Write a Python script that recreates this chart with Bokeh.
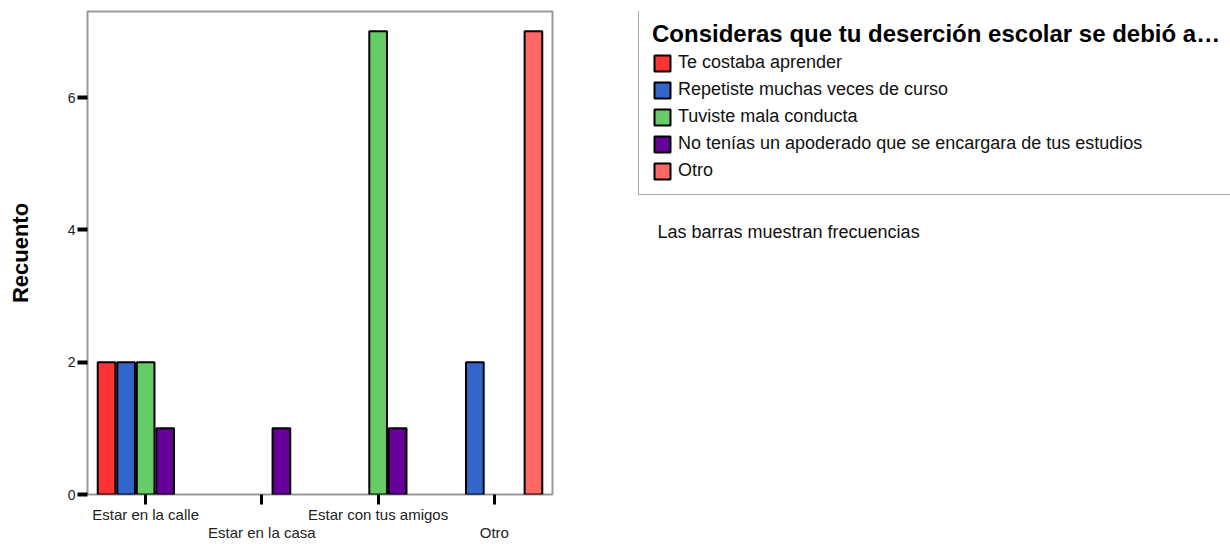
from bokeh.plotting import figure
from bokeh.layouts import row
from bokeh.models import (Range1d, FixedTicker, Legend, LegendItem, Label,
                          ColumnDataSource)
from bokeh.transform import dodge
from bokeh.embed import file_html
from bokeh.resources import INLINE

# ---- data ----
categories = ["Estar en la calle", "Estar en la casa", "Estar con tus amigos", "Otro"]
series_names = [
    "Te costaba aprender",
    "Repetiste muchas veces de curso",
    "Tuviste mala conducta",
    "No tenías un apoderado que se encargara de tus estudios",
    "Otro",
]
te_costaba = [2, 0, 0, 0]
repetiste = [2, 0, 0, 2]
mala_conducta = [2, 0, 7, 0]
sin_apoderado = [1, 1, 1, 0]
otro = [0, 0, 0, 7]
series_values = [te_costaba, repetiste, mala_conducta, sin_apoderado, otro]
colors = ["#ff3333", "#3366cc", "#66cc66", "#660099", "#ff6666"]
y_ticks = [0, 2, 4, 6]
legend_title = "Consideras que tu deserción escolar se debió a…"
note_text = "Las barras muestran frecuencias"

FONT = "Liberation Sans"
W1 = 560
H = 544
FRAME_BOTTOM = 495  # page y of the plot frame's bottom edge

p = figure(width=W1, height=H, output_backend="svg", toolbar_location=None,
           x_range=Range1d(-0.5, 3.5), y_range=Range1d(0, 7.3),
           min_border_left=87, min_border_right=8, min_border_top=11,
           min_border_bottom=H - FRAME_BOTTOM)
p.grid.visible = False
p.outline_line_color = "#9a9a9a"
p.outline_line_width = 2
p.background_fill_color = "white"
p.border_fill_color = "white"

slot = 0.168
for s, (name, vals, col) in enumerate(zip(series_names, series_values, colors)):
    xs = [i for i, v in enumerate(vals) if v > 0]
    tops = [v for v in vals if v > 0]
    src = ColumnDataSource(dict(x=xs, top=tops))
    p.vbar(x=dodge("x", (s - 2) * slot, range=p.x_range), top="top",
           width=0.152, bottom=0, source=src, fill_color=col,
           line_color="black", line_width=2)

# y axis
p.yaxis.ticker = FixedTicker(ticks=y_ticks)
p.yaxis.minor_tick_line_color = None
p.yaxis.major_tick_in = 0
p.yaxis.major_tick_out = 10
p.yaxis.major_tick_line_width = 4
p.yaxis.major_tick_line_color = "black"
p.yaxis.axis_line_color = None
p.yaxis.major_label_text_font = FONT
p.yaxis.major_label_text_font_size = "14px"
p.yaxis.major_label_text_color = "#222222"
p.yaxis.major_label_standoff = 2
p.yaxis.axis_label = "Recuento"
p.yaxis.axis_label_text_font = FONT
p.yaxis.axis_label_text_font_size = "22px"
p.yaxis.axis_label_text_font_style = "bold"
p.yaxis.axis_label_text_color = "black"
p.yaxis.axis_label_standoff = 32

# x axis
p.xaxis.ticker = FixedTicker(ticks=list(range(len(categories))))
p.xaxis.major_label_overrides = {
    i: (c if i % 2 == 0 else "\n" + c) for i, c in enumerate(categories)
}
p.xaxis.minor_tick_line_color = None
p.xaxis.major_tick_in = 0
p.xaxis.major_tick_out = 10
p.xaxis.major_tick_line_width = 3
p.xaxis.major_tick_line_color = "black"
p.xaxis.axis_line_color = None
p.xaxis.major_label_text_font = FONT
p.xaxis.major_label_text_font_size = "15px"
p.xaxis.major_label_text_color = "#222222"
p.xaxis.major_label_standoff = 1
p.xaxis.major_label_text_line_height = 1.1

# ---- legend panel (right) ----
W2 = 1230 - W1
p2 = figure(width=W2, height=H, output_backend="svg", toolbar_location=None,
            x_range=Range1d(0, W2), y_range=Range1d(0, H),
            min_border=0, outline_line_color=None)
p2.axis.visible = False
p2.grid.visible = False
p2.background_fill_color = "white"
p2.border_fill_color = "white"

# legend proxies (no drawable position; only their swatches show in the legend)
nan = float("nan")
items = []
for name, col in zip(series_names, colors):
    r = p2.vbar(x=[nan], top=[nan], bottom=[nan], width=1, fill_color=col,
                line_color="black", line_width=2)
    items.append(LegendItem(label=name, renderers=[r]))

# the frame of p2 is aligned with the frame of p (bottom at FRAME_BOTTOM)
legend = Legend(items=items, location=(638 - W1, FRAME_BOTTOM - 196),
                title=legend_title,
                title_text_font=FONT, title_text_font_size="24px",
                title_text_font_style="bold", title_text_color="black",
                title_standoff=4,
                label_text_font=FONT, label_text_font_size="18px",
                label_text_color="#111111",
                glyph_width=20, glyph_height=20, label_height=20,
                label_width=620, label_standoff=6, spacing=6, padding=13,
                margin=0, border_line_color="#555555", border_line_width=1,
                background_fill_color="white", background_fill_alpha=1.0)
p2.add_layout(legend, "center")

note = Label(x=657 - W1, y=FRAME_BOTTOM - 232, x_units="screen", y_units="screen",
             text=note_text, text_font=FONT,
             text_font_size="18px", text_baseline="middle",
             text_color="#111111")
p2.add_layout(note)

open("out.html", "w").write(file_html(row(p, p2), INLINE))
